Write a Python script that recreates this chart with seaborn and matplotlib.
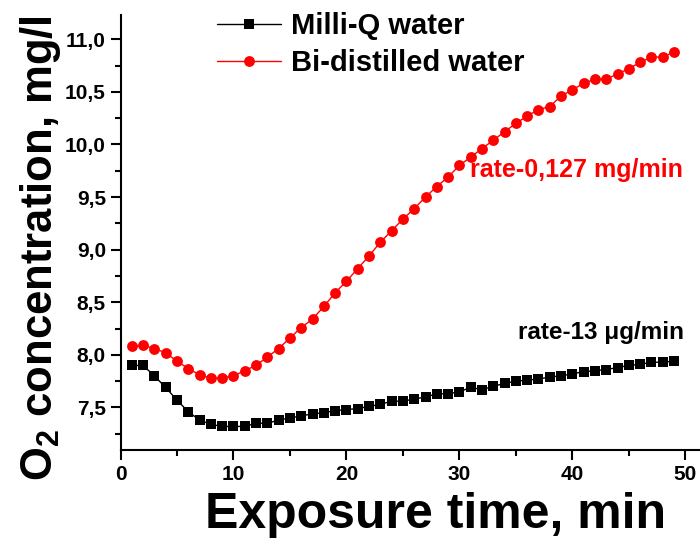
import matplotlib
matplotlib.use("Agg")
import matplotlib.pyplot as plt
import seaborn as sns
import pandas as pd
from matplotlib.ticker import MultipleLocator, FuncFormatter
from matplotlib.lines import Line2D

# Exposure time, minutes
time_min = list(range(1, 50))

# Dissolved O2, mg/l
milli_q = [7.90, 7.90, 7.80, 7.69, 7.57, 7.46, 7.38, 7.34, 7.32, 7.32,
           7.32, 7.35, 7.35, 7.38, 7.40, 7.42, 7.44, 7.45, 7.47, 7.48,
           7.49, 7.51, 7.53, 7.56, 7.56, 7.58, 7.60, 7.63, 7.63, 7.65,
           7.69, 7.67, 7.70, 7.73, 7.75, 7.76, 7.77, 7.79, 7.80, 7.82,
           7.84, 7.85, 7.86, 7.88, 7.90, 7.91, 7.93, 7.93, 7.94]
bi_distilled = [8.08, 8.09, 8.06, 8.02, 7.94, 7.87, 7.81, 7.78, 7.78, 7.80,
                7.85, 7.90, 7.98, 8.06, 8.16, 8.26, 8.34, 8.46, 8.59, 8.70,
                8.82, 8.94, 9.07, 9.18, 9.29, 9.39, 9.50, 9.60, 9.69, 9.80,
                9.88, 9.96, 10.04, 10.12, 10.20, 10.27, 10.33, 10.36, 10.46, 10.52,
                10.58, 10.62, 10.62, 10.67, 10.72, 10.78, 10.83, 10.83, 10.88]

series_names = ["Milli-Q water", "Bi-distilled water"]
rate_labels = ["rate-13 \u03bcg/min", "rate-0,127 mg/min"]

sns.set_style("ticks")
plt.rcParams["font.family"] = ["Liberation Sans", "DejaVu Sans"]
plt.rcParams["font.weight"] = "bold"
plt.rcParams["mathtext.default"] = "regular"
plt.rcParams["text.color"] = "black"
plt.rcParams["axes.labelcolor"] = "black"
plt.rcParams["xtick.color"] = "black"
plt.rcParams["ytick.color"] = "black"

df = pd.concat([
    pd.DataFrame({"t": time_min, "o2": milli_q, "water": series_names[0]}),
    pd.DataFrame({"t": time_min, "o2": bi_distilled, "water": series_names[1]}),
])

fig = plt.figure(figsize=(7.0, 5.4), dpi=100)
ax = fig.add_axes([120.5 / 700, 90 / 540, 1 - 120.5 / 700, 435 / 540])

styles = {
    series_names[0]: dict(color="black", marker="s", markersize=7.2),
    series_names[1]: dict(color="red", marker="o", markersize=7.8),
}
for name in series_names:
    st = styles[name]
    sns.lineplot(data=df[df["water"] == name], x="t", y="o2", ax=ax,
                 color=st["color"], marker=st["marker"], markersize=st["markersize"],
                 markeredgewidth=0, linewidth=1.0, legend=False)

ax.set_xlim(0, 51.3)
ax.set_ylim(7.096, 11.23)
ax.xaxis.set_major_locator(MultipleLocator(10))
ax.xaxis.set_minor_locator(MultipleLocator(5))
ax.yaxis.set_major_locator(MultipleLocator(0.5))
ax.yaxis.set_minor_locator(MultipleLocator(0.25))
ax.yaxis.set_major_formatter(FuncFormatter(lambda v, p: f"{v:.1f}".replace(".", ",")))

for s in ["top", "right"]:
    ax.spines[s].set_visible(False)
for s in ["left", "bottom"]:
    ax.spines[s].set_linewidth(1.5)
    ax.spines[s].set_color("black")
ax.tick_params(which="major", direction="out", length=7, width=1.5, labelsize=15, colors="black")
ax.tick_params(which="minor", direction="out", length=4, width=1.5, colors="black")
for lbl in ax.get_xticklabels() + ax.get_yticklabels():
    lbl.set_fontweight("bold")

ax.set_xlabel("Exposure time, min", fontsize=36, fontweight="bold")
ax.set_ylabel("O$_2$ concentration, mg/l", fontsize=31.4, fontweight="bold")
ax.xaxis.set_label_coords(0.544, -0.097)
ax.yaxis.set_label_coords(-0.099, 0.464)

ax.text(30.9, 9.76, rate_labels[1], color="red", fontsize=18, fontweight="bold", va="center", ha="left")
ax.text(35.2, 8.21, rate_labels[0], color="black", fontsize=17.5, fontweight="bold", va="center", ha="left")

handles = [Line2D([], [], color=styles[n]["color"], marker=styles[n]["marker"],
                  markersize=styles[n]["markersize"], markeredgewidth=0, linewidth=1.0)
           for n in series_names]
fig.legend(handles, series_names, loc="upper left", bbox_to_anchor=(217 / 700, 1 - 12 / 540),
           frameon=False, prop={"size": 21, "weight": "bold"}, handlelength=2.2,
           handletextpad=0.35, labelspacing=0.32, borderpad=0, borderaxespad=0)

fig.savefig("out.png", dpi=100)
